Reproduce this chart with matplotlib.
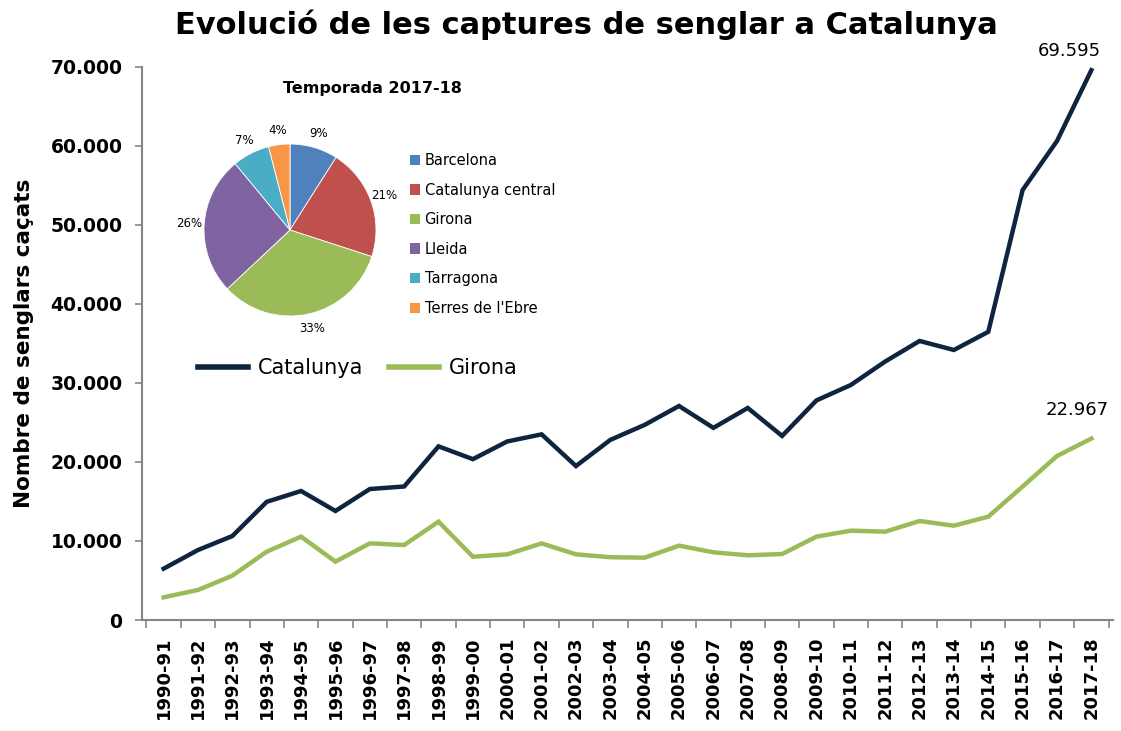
import matplotlib
matplotlib.use("Agg")
import matplotlib.pyplot as plt
from matplotlib.patches import Patch
from matplotlib.ticker import FuncFormatter

seasons = [
    "1990-91", "1991-92", "1992-93", "1993-94", "1994-95", "1995-96", "1996-97",
    "1997-98", "1998-99", "1999-00", "2000-01", "2001-02", "2002-03", "2003-04",
    "2004-05", "2005-06", "2006-07", "2007-08", "2008-09", "2009-10", "2010-11",
    "2011-12", "2012-13", "2013-14", "2014-15", "2015-16", "2016-17", "2017-18",
]
catalunya = [
    6500, 8860, 10630, 14960, 16330, 13800, 16580, 16900, 21980, 20360,
    22600, 23500, 19490, 22800, 24700, 27090, 24320, 26840, 23300, 27800,
    29750, 32720, 35320, 34180, 36480, 54430, 60630, 69595,
]
girona = [
    2870, 3800, 5610, 8650, 10550, 7390, 9700, 9490, 12450, 8010,
    8310, 9700, 8310, 7950, 7890, 9410, 8570, 8190, 8350, 10550,
    11310, 11180, 12530, 11940, 13080, 16900, 20760, 22967,
]

pie_regions = ["Barcelona", "Catalunya central", "Girona", "Lleida",
               "Tarragona", "Terres de l'Ebre"]
pie_shares = [9, 21, 33, 26, 7, 4]
pie_colors = ["#4F81BD", "#C0504D", "#9BBB59", "#8064A2", "#4BACC6", "#F79646"]

navy = "#0F243E"
green = "#9BBB59"
grey = "#868686"

fig = plt.figure(figsize=(11.21, 7.31), dpi=100)
ax = fig.add_axes([142 / 1121, (731 - 620) / 731, (1113 - 142) / 1121, (620 - 67) / 731])

x = list(range(len(seasons)))
ax.plot(x, catalunya, color=navy, lw=3.2, label="Catalunya", solid_joinstyle="miter")
ax.plot(x, girona, color=green, lw=3.2, label="Girona", solid_joinstyle="miter")

ax.set_xlim(-0.63, len(seasons) - 0.37)
ax.set_ylim(0, 70000)
ax.set_yticks(range(0, 70001, 10000))
ax.yaxis.set_major_formatter(FuncFormatter(lambda v, p: "0" if v == 0 else f"{int(v):,}".replace(",", ".")))
ax.set_xticks(x)
ax.set_xticklabels(seasons, rotation=90, fontweight="bold", fontsize=13)
ax.set_xticks([i - 0.5 for i in range(len(seasons) + 1)], minor=True)
ax.tick_params(axis="x", which="major", length=0, pad=12)
ax.tick_params(axis="x", which="minor", length=6, color=grey, width=1.2)
ax.tick_params(axis="y", length=5, color=grey, width=1.2, labelsize=13.5, pad=9)
for lab in ax.get_yticklabels():
    lab.set_fontweight("bold")
for s in ["top", "right"]:
    ax.spines[s].set_visible(False)
for s in ["left", "bottom"]:
    ax.spines[s].set_color(grey)
    ax.spines[s].set_linewidth(1.5)

ax.set_ylabel("Nombre de senglars caçats", fontsize=15.5, fontweight="bold", labelpad=12)

ax.annotate(f"{catalunya[-1]:,}".replace(",", "."), (x[-1], catalunya[-1]),
            xytext=(-16, 10), textcoords="offset points", ha="center", fontsize=13)
ax.annotate(f"{girona[-1]:,}".replace(",", "."), (x[-1], girona[-1]),
            xytext=(-10, 17), textcoords="offset points", ha="center", fontsize=13)

leg = ax.legend(loc="center left", bbox_to_anchor=(0.049, 0.456), ncol=2, frameon=False,
                fontsize=15, handlelength=2.4, columnspacing=1.2, handletextpad=0.5,
                borderaxespad=0)
for ln in leg.get_lines():
    ln.set_linewidth(4)

fig.text(0.523, 0.966, "Evolució de les captures de senglar a Catalunya",
         ha="center", va="center", fontsize=22, fontweight="bold")

# inset pie
r = 86
pax = fig.add_axes([(290 - r) / 1121, (731 - 230 - r) / 731, 2 * r / 1121, 2 * r / 731])
wedges, _, autotexts = pax.pie(pie_shares, colors=pie_colors, startangle=90, counterclock=False,
                               autopct="%1.0f%%", pctdistance=1.17, radius=1,
                               wedgeprops=dict(edgecolor="white", linewidth=0.6),
                               textprops=dict(fontsize=8.5))
pax.set_xlim(-1, 1)
pax.set_ylim(-1, 1)
pax.set_aspect("equal")
fig.text(372 / 1121, 1 - 88 / 731, "Temporada 2017-18", ha="center", va="center",
         fontsize=11.5, fontweight="bold")
handles = [Patch(facecolor=c, edgecolor="none") for c in pie_colors]
fig.legend(handles, pie_regions, loc="upper left", bbox_to_anchor=(407 / 1121, 1 - 150 / 731),
           frameon=False, fontsize=10.5, handlelength=0.7, handleheight=0.7,
           handletextpad=0.3, labelspacing=1.0, borderaxespad=0, borderpad=0.2)

fig.savefig("out.png", dpi=100)
